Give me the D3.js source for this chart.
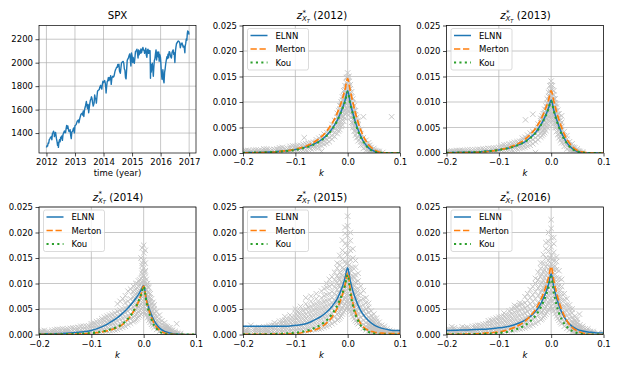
<!DOCTYPE html>
<html>
<head>
<meta charset="utf-8">
<script src="https://cdn.jsdelivr.net/npm/d3@7"></script>
<style>
  body { margin: 0; background: #fff; }
  svg { display: block; font-family: "DejaVu Sans", sans-serif; }
</style>
</head>
<body>
<svg id="chart" width="620" height="372"></svg>
<script>
// ---- data ----
const yearTicks = [2012, 2013, 2014, 2015, 2016, 2017];
const spxTicks = [1400, 1600, 1800, 2000, 2200];
const kTicks = [-0.2, -0.1, 0.0, 0.1];
const zTicks = [0, 0.005, 0.010, 0.015, 0.020, 0.025];
const years = [2012, 2013, 2014, 2015, 2016];
const modelNames = ["ELNN", "Merton", "Kou"];

// SPX close, [decimal year, level]
const spx = [
  [2012.00,1277],[2012.02,1292],[2012.04,1289],[2012.06,1315],[2012.08,1313],[2012.10,1344],[2012.12,1351],[2012.14,1361],
  [2012.17,1370],[2012.19,1343],[2012.21,1395],[2012.23,1405],[2012.25,1416],[2012.27,1398],[2012.28,1370],[2012.30,1390],
  [2012.32,1406],[2012.35,1354],[2012.37,1330],[2012.39,1295],[2012.41,1318],[2012.42,1278],[2012.44,1325],[2012.46,1343],
  [2012.48,1326],[2012.50,1365],[2012.52,1354],[2012.54,1376],[2012.56,1338],[2012.58,1385],[2012.60,1400],[2012.63,1418],
  [2012.65,1403],[2012.67,1404],[2012.69,1437],[2012.71,1465],[2012.73,1441],[2012.75,1460],[2012.77,1432],[2012.79,1413],
  [2012.81,1412],[2012.83,1428],[2012.85,1380],[2012.87,1353],[2012.89,1409],[2012.92,1416],[2012.94,1435],[2012.96,1444],
  [2012.98,1402],[2013.00,1462],[2013.04,1472],[2013.08,1501],[2013.12,1511],[2013.14,1488],[2013.17,1525],[2013.21,1560],
  [2013.25,1569],[2013.27,1553],[2013.29,1588],[2013.31,1541],[2013.33,1590],[2013.35,1614],[2013.37,1633],[2013.40,1669],
  [2013.42,1632],[2013.44,1608],[2013.46,1644],[2013.48,1573],[2013.50,1615],[2013.52,1652],[2013.54,1680],[2013.56,1692],
  [2013.58,1709],[2013.60,1690],[2013.62,1656],[2013.64,1630],[2013.67,1655],[2013.69,1725],[2013.71,1698],[2013.73,1692],
  [2013.75,1655],[2013.77,1710],[2013.79,1755],[2013.81,1763],[2013.83,1767],[2013.85,1770],[2013.87,1791],[2013.90,1807],
  [2013.92,1785],[2013.94,1775],[2013.96,1818],[2013.98,1842],[2014.00,1831],[2014.02,1838],[2014.04,1848],[2014.06,1828],
  [2014.08,1782],[2014.09,1741],[2014.11,1797],[2014.13,1839],[2014.15,1848],[2014.17,1873],[2014.19,1846],[2014.21,1872],
  [2014.23,1857],[2014.25,1890],[2014.27,1815],[2014.29,1864],[2014.31,1878],[2014.33,1884],[2014.35,1878],[2014.37,1888],
  [2014.40,1924],[2014.42,1940],[2014.44,1950],[2014.46,1962],[2014.48,1960],[2014.50,1985],[2014.52,1968],[2014.54,1988],
  [2014.56,1930],[2014.59,1910],[2014.61,1955],[2014.63,1998],[2014.65,2003],[2014.67,2007],[2014.69,2011],[2014.71,1995],
  [2014.73,1946],[2014.75,1935],[2014.77,1874],[2014.79,1862],[2014.81,1941],[2014.83,2018],[2014.85,2031],[2014.87,2039],
  [2014.90,2063],[2014.92,2075],[2014.94,2026],[2014.96,1972],[2014.98,2082],[2015.00,2058],[2015.02,2002],[2015.04,2044],
  [2015.06,2011],[2015.08,1995],[2015.10,2041],[2015.12,2096],[2015.14,2100],[2015.17,2115],[2015.19,2079],[2015.21,2040],
  [2015.23,2108],[2015.25,2068],[2015.27,2100],[2015.29,2081],[2015.31,2117],[2015.33,2085],[2015.35,2105],[2015.38,2130],
  [2015.40,2108],[2015.42,2107],[2015.44,2080],[2015.46,2096],[2015.48,2124],[2015.50,2063],[2015.52,2046],[2015.54,2108],
  [2015.56,2114],[2015.58,2080],[2015.60,2104],[2015.62,2083],[2015.63,2102],[2015.635,2035],[2015.64,1971],[2015.645,1867],
  [2015.655,1988],[2015.67,1920],[2015.69,1962],[2015.71,1995],[2015.73,1932],[2015.745,1884],[2015.76,1951],[2015.78,2017],
  [2015.80,2033],[2015.82,2075],[2015.84,2109],[2015.86,2023],[2015.88,2089],[2015.90,2090],[2015.92,2049],[2015.935,2091],
  [2015.95,2012],[2015.96,2073],[2015.98,2063],[2015.995,2044],[2016.01,1990],[2016.02,1943],[2016.04,1880],[2016.05,1859],
  [2016.07,1906],[2016.08,1940],[2016.10,1853],[2016.12,1829],[2016.14,1917],[2016.16,1948],[2016.18,1993],[2016.20,2022],
  [2016.22,2050],[2016.24,2035],[2016.26,2073],[2016.28,2042],[2016.30,2094],[2016.32,2091],[2016.34,2065],[2016.36,2047],
  [2016.38,2040],[2016.40,2086],[2016.42,2099],[2016.44,2109],[2016.46,2071],[2016.48,2083],[2016.49,2037],[2016.50,2001],
  [2016.52,2099],[2016.54,2137],[2016.56,2166],[2016.58,2169],[2016.60,2180],[2016.62,2185],[2016.64,2182],[2016.67,2171],
  [2016.69,2127],[2016.71,2147],[2016.73,2164],[2016.75,2168],[2016.77,2153],[2016.79,2133],[2016.81,2141],[2016.83,2126],
  [2016.85,2085],[2016.86,2139],[2016.88,2164],[2016.90,2202],[2016.92,2191],[2016.935,2246],[2016.95,2271],[2016.965,2258],
  [2016.98,2263],[2016.995,2239]
];

// k values at which the fitted curves were read
const kGrid = [-0.2,-0.18,-0.16,-0.14,-0.12,-0.1,-0.09,-0.08,-0.07,-0.06,-0.05,-0.04,-0.03,-0.025,-0.02,-0.015,
               -0.01,-0.005,0,0.005,0.01,0.015,0.02,0.025,0.03,0.04,0.05,0.06,0.07,0.08,0.09,0.1];

const elnn2012   = [0.00005,0.0001,0.00015,0.00025,0.0004,0.0007,0.0009,0.0012,0.0015,0.002,0.0026,0.0035,0.0047,0.0055,0.0064,0.0075,0.0088,0.0103,0.0122,0.0098,0.0078,0.006,0.0045,0.0033,0.0023,0.001,0.0004,0.0001,0,0,0,0];
const merton2012 = [0.00002,0.00005,0.0001,0.0002,0.0004,0.0007,0.001,0.0013,0.0018,0.0024,0.0032,0.0043,0.0058,0.0067,0.0078,0.0091,0.0106,0.0125,0.0146,0.0122,0.0099,0.0078,0.006,0.0045,0.0033,0.0016,0.0007,0.0002,0.00005,0,0,0];
const kou2012    = [0.00004,0.00008,0.00012,0.0002,0.00035,0.0006,0.0008,0.0011,0.0014,0.0019,0.0025,0.0034,0.0046,0.0054,0.0063,0.0074,0.0087,0.0101,0.012,0.0096,0.0076,0.0058,0.0043,0.0031,0.0022,0.0009,0.0003,0.0001,0,0,0,0];

const elnn2013   = [0.00005,0.0001,0.00015,0.0002,0.0004,0.0006,0.0008,0.001,0.0013,0.0017,0.0022,0.003,0.004,0.0047,0.0055,0.0064,0.0075,0.0088,0.0104,0.0084,0.0067,0.0052,0.0039,0.0029,0.002,0.0009,0.0003,0.0001,0,0,0,0];
const merton2013 = [0.00002,0.00005,0.0001,0.00015,0.0003,0.0006,0.0008,0.0011,0.0015,0.002,0.0027,0.0036,0.0048,0.0056,0.0065,0.0076,0.0089,0.0104,0.0122,0.0102,0.0082,0.0065,0.005,0.0037,0.0027,0.0013,0.0005,0.0002,0.00005,0,0,0];
const kou2013    = [0.00004,0.00008,0.00012,0.0002,0.00035,0.0006,0.0008,0.001,0.0013,0.0017,0.0022,0.0029,0.0039,0.0046,0.0054,0.0063,0.0074,0.0087,0.0102,0.0082,0.0065,0.005,0.0037,0.0027,0.0019,0.0008,0.0003,0.0001,0,0,0,0];

const elnn2014   = [0.0001,0.00015,0.0002,0.0003,0.0005,0.0008,0.0011,0.0015,0.002,0.0026,0.0033,0.0042,0.0052,0.0058,0.0064,0.0071,0.0078,0.0087,0.0096,0.007,0.0052,0.0038,0.0027,0.0019,0.0013,0.0006,0.0003,0.0001,0.00005,0,0,0];
const merton2014 = [0,0.00002,0.00004,0.00006,0.00012,0.00025,0.00035,0.0005,0.0007,0.001,0.0014,0.002,0.003,0.0036,0.0044,0.0053,0.0064,0.0078,0.0095,0.0068,0.0048,0.0033,0.0022,0.0014,0.0009,0.0003,0.0001,0,0,0,0,0];
const kou2014    = [0.00002,0.00004,0.00006,0.0001,0.00016,0.0003,0.0004,0.0006,0.0008,0.0011,0.0015,0.0021,0.0031,0.0037,0.0045,0.0054,0.0065,0.0078,0.0094,0.0065,0.0044,0.0029,0.0018,0.0011,0.0006,0.0001,0,0,0,0,0,0];

const elnn2015   = [0.0016,0.0016,0.0016,0.0016,0.0016,0.0018,0.0019,0.0021,0.0025,0.003,0.0036,0.0044,0.0055,0.0062,0.007,0.0081,0.0094,0.0111,0.0131,0.0105,0.0085,0.007,0.0057,0.0047,0.0039,0.0027,0.0019,0.0014,0.0011,0.0009,0.0008,0.0008];
const merton2015 = [0.00005,0.00005,0.00005,0.00008,0.0001,0.0002,0.0003,0.0005,0.0007,0.001,0.0015,0.0023,0.0034,0.0042,0.0051,0.0063,0.0078,0.0097,0.0121,0.0088,0.0062,0.0043,0.003,0.0021,0.0015,0.0008,0.0005,0.0003,0.00025,0.0002,0.0002,0.0002];
const kou2015    = [0.00005,0.00005,0.00005,0.0001,0.0002,0.00035,0.0005,0.0007,0.001,0.0014,0.002,0.0028,0.004,0.0048,0.0057,0.0068,0.0081,0.0097,0.0117,0.0082,0.0057,0.0039,0.0027,0.0018,0.0012,0.0005,0.0002,0,0,0,0,0];

const elnn2016   = [0.0008,0.00085,0.0009,0.001,0.0011,0.0013,0.0014,0.0016,0.0019,0.0023,0.0028,0.0035,0.0045,0.0052,0.006,0.0071,0.0083,0.0099,0.0119,0.0094,0.0073,0.0057,0.0044,0.0034,0.0026,0.0016,0.001,0.0007,0.0005,0.0004,0.0003,0.0003];
const merton2016 = [0.00003,0.00005,0.0001,0.00015,0.0003,0.0005,0.0007,0.001,0.0014,0.0019,0.0026,0.0036,0.0049,0.0058,0.0068,0.008,0.0094,0.0112,0.0133,0.0106,0.0083,0.0064,0.0049,0.0037,0.0027,0.0014,0.0007,0.0003,0.0001,0,0,0];
const kou2016    = [0.00005,0.00005,0.00005,0.0001,0.00015,0.0003,0.0004,0.0006,0.0009,0.0013,0.0018,0.0026,0.0037,0.0044,0.0053,0.0064,0.0077,0.0093,0.0113,0.0082,0.0059,0.0042,0.003,0.0021,0.0015,0.0007,0.0003,0.0001,0,0,0,0];

// observed points: [k, [z, z, ...]]
const cloud2012 = [
  [-0.200,[0.0001,0.0004]],[-0.190,[0.0002,0.0005]],[-0.180,[0.0001,0.0006]],[-0.170,[0.0002,0.0005]],
  [-0.160,[0.0001,0.0004,0.0008]],[-0.150,[0.0002,0.0006]],[-0.140,[0.0003,0.0007]],[-0.130,[0.0002,0.0006,0.0010]],
  [-0.120,[0.0003,0.0008]],[-0.110,[0.0004,0.0009,0.0013]],[-0.100,[0.0003,0.0008,0.0013]],[-0.090,[0.0005,0.0010,0.0015]],
  [-0.083,[0.0030]],[-0.080,[0.0006,0.0012,0.0018]],[-0.070,[0.0008,0.0014,0.0020]],[-0.060,[0.0010,0.0016,0.0022,0.0026]],
  [-0.050,[0.0003,0.0014,0.0020,0.0026,0.0032]],[-0.045,[0.0017,0.0024,0.0031,0.0037]],[-0.040,[0.0019,0.0026,0.0033,0.0040]],
  [-0.035,[0.0022,0.0030,0.0038,0.0046]],[-0.030,[0.0027,0.0034,0.0042,0.0050,0.0056]],[-0.025,[0.0032,0.0040,0.0048,0.0056,0.0064]],
  [-0.020,[0.0038,0.0046,0.0054,0.0062,0.0070,0.0078]],[-0.015,[0.0046,0.0054,0.0062,0.0070,0.0078,0.0086,0.0093]],
  [-0.010,[0.0055,0.0064,0.0072,0.0080,0.0088,0.0096,0.0104,0.0110]],
  [-0.005,[0.0068,0.0076,0.0084,0.0092,0.0100,0.0108,0.0116,0.0124,0.0132]],
  [0.000,[0.0085,0.0093,0.0101,0.0109,0.0117,0.0125,0.0133,0.0141,0.0149,0.0157]],
  [0.005,[0.0070,0.0078,0.0086,0.0094,0.0102,0.0110,0.0118,0.0126,0.0134]],
  [0.010,[0.0050,0.0058,0.0066,0.0074,0.0082,0.0090,0.0098,0.0106]],[0.015,[0.0035,0.0043,0.0051,0.0059,0.0067,0.0075,0.0083]],
  [0.020,[0.0024,0.0032,0.0040,0.0048,0.0056,0.0064]],[0.025,[0.0015,0.0022,0.0030,0.0038,0.0046]],
  [0.030,[0.0009,0.0016,0.0023,0.0030,0.0071]],[0.035,[0.0005,0.0011,0.0018,0.0025]],[0.040,[0.0003,0.0008,0.0014,0.0020]],
  [0.045,[0.0002,0.0006,0.0011]],[0.050,[0.0001,0.0005,0.0009]],[0.055,[0.0001,0.0004]],[0.060,[0.0000,0.0003]],
  [0.067,[0.0001]],[0.084,[0.0071]]
];
const fill2012 = [
  [-0.195,[0.0002,0.0005]],[-0.185,[0.0001,0.0004]],[-0.175,[0.0002,0.0006]],[-0.165,[0.0001,0.0005]],
  [-0.155,[0.0002,0.0005,0.0008]],[-0.145,[0.0002,0.0006]],[-0.135,[0.0003,0.0008]],[-0.125,[0.0003,0.0007,0.0011]],
  [-0.115,[0.0004,0.0009]],[-0.105,[0.0004,0.0009,0.0014]],[-0.095,[0.0005,0.0010,0.0015]],[-0.085,[0.0006,0.0011,0.0017]],
  [-0.075,[0.0007,0.0013,0.0019]],[-0.065,[0.0009,0.0015,0.0021]],[-0.055,[0.0011,0.0017,0.0023,0.0029]],
  [-0.0175,[0.0043,0.0053,0.0063,0.0073,0.0083]],[-0.0125,[0.0052,0.0062,0.0072,0.0082,0.0092,0.0100]],
  [-0.0075,[0.0062,0.0072,0.0082,0.0092,0.0102,0.0112,0.0122]],[-0.0025,[0.0078,0.0088,0.0098,0.0108,0.0118,0.0128,0.0138,0.0148]],
  [0.0025,[0.0080,0.0090,0.0100,0.0110,0.0120,0.0130,0.0140,0.0150]],[0.0075,[0.0060,0.0070,0.0080,0.0090,0.0100,0.0110,0.0120]],
  [0.0125,[0.0043,0.0053,0.0063,0.0073,0.0083,0.0093]],[0.0175,[0.0030,0.0040,0.0050,0.0060,0.0070]],
  [0.0425,[0.0003,0.0009,0.0015]],[0.0475,[0.0002,0.0007]],[0.0525,[0.0001,0.0005]],[0.0575,[0.0001,0.0003]]
];
const cloud2013 = [
  [-0.200,[0.0001,0.0003]],[-0.190,[0.0001,0.0004]],[-0.180,[0.0002,0.0005]],[-0.176,[0.0003]],[-0.170,[0.0001,0.0005]],
  [-0.160,[0.0002,0.0006]],[-0.150,[0.0002,0.0006]],[-0.140,[0.0003,0.0007]],[-0.130,[0.0003,0.0008]],[-0.120,[0.0004,0.0009]],
  [-0.110,[0.0004,0.0010]],[-0.100,[0.0005,0.0011]],[-0.090,[0.0005,0.0011,0.0016]],[-0.080,[0.0006,0.0012,0.0018]],
  [-0.070,[0.0007,0.0014,0.0021]],[-0.060,[0.0009,0.0016,0.0023]],[-0.050,[0.0011,0.0018,0.0025,0.0031]],[-0.049,[0.0065]],
  [-0.045,[0.0013,0.0020,0.0028,0.0035]],[-0.040,[0.0015,0.0023,0.0031,0.0039]],[-0.035,[0.0018,0.0026,0.0034,0.0042,0.0076]],
  [-0.030,[0.0001,0.0022,0.0030,0.0038,0.0046]],[-0.025,[0.0026,0.0034,0.0042,0.0050,0.0057]],
  [-0.020,[0.0031,0.0039,0.0047,0.0055,0.0063,0.0068]],[-0.015,[0.0037,0.0045,0.0053,0.0061,0.0069,0.0077]],
  [-0.010,[0.0044,0.0052,0.0060,0.0068,0.0076,0.0084,0.0092]],
  [-0.005,[0.0055,0.0063,0.0071,0.0079,0.0087,0.0095,0.0103,0.0111,0.0119]],
  [0.000,[0.0070,0.0078,0.0086,0.0094,0.0102,0.0110,0.0118,0.0126,0.0134,0.0141]],
  [0.005,[0.0058,0.0066,0.0074,0.0082,0.0090,0.0098,0.0106,0.0114,0.0122]],
  [0.010,[0.0042,0.0050,0.0058,0.0066,0.0074,0.0082,0.0090,0.0096]],[0.015,[0.0030,0.0038,0.0046,0.0054,0.0062,0.0070,0.0077]],
  [0.020,[0.0020,0.0028,0.0036,0.0044,0.0052,0.0060,0.0073]],[0.025,[0.0013,0.0020,0.0027,0.0034,0.0042]],
  [0.030,[0.0008,0.0014,0.0020,0.0027,0.0034]],[0.035,[0.0004,0.0010,0.0016,0.0022]],[0.040,[0.0002,0.0007,0.0012,0.0018]],
  [0.045,[0.0001,0.0005,0.0010]],[0.050,[0.0001,0.0004,0.0008]],[0.055,[0.0000,0.0003]],[0.060,[0.0000,0.0002]]
];
const fill2013 = [
  [-0.195,[0.0001,0.0003]],[-0.185,[0.0002,0.0004]],[-0.175,[0.0001,0.0005]],[-0.165,[0.0002,0.0005]],
  [-0.155,[0.0002,0.0006]],[-0.145,[0.0002,0.0006]],[-0.135,[0.0003,0.0007]],[-0.125,[0.0003,0.0008]],
  [-0.115,[0.0004,0.0009]],[-0.105,[0.0004,0.0010]],[-0.095,[0.0005,0.0010,0.0014]],[-0.085,[0.0005,0.0011,0.0016]],
  [-0.075,[0.0006,0.0013,0.0019]],[-0.065,[0.0008,0.0015,0.0022]],[-0.055,[0.0010,0.0017,0.0024,0.0029]],
  [-0.0175,[0.0034,0.0042,0.0050,0.0058,0.0066,0.0073]],[-0.0125,[0.0040,0.0048,0.0056,0.0064,0.0072,0.0080,0.0086]],
  [-0.0075,[0.0050,0.0058,0.0066,0.0074,0.0082,0.0090,0.0098,0.0106]],[-0.0025,[0.0062,0.0072,0.0082,0.0092,0.0102,0.0112,0.0122,0.0132]],
  [0.0025,[0.0064,0.0074,0.0084,0.0094,0.0104,0.0114,0.0124,0.0132]],[0.0075,[0.0050,0.0058,0.0066,0.0074,0.0082,0.0090,0.0098,0.0106]],
  [0.0125,[0.0036,0.0044,0.0052,0.0060,0.0068,0.0076,0.0084]],[0.0175,[0.0025,0.0033,0.0041,0.0049,0.0057,0.0064]],
  [0.0425,[0.0002,0.0006,0.0011]],[0.0475,[0.0001,0.0005]],[0.0525,[0.0001,0.0004]]
];
const cloud2014 = [
  [-0.200,[0.0001,0.0004]],[-0.190,[0.0001,0.0004,0.0008]],[-0.180,[0.0002,0.0005]],[-0.170,[0.0001,0.0005,0.0009]],
  [-0.160,[0.0002,0.0006,0.0010]],[-0.150,[0.0002,0.0006,0.0010]],[-0.140,[0.0003,0.0007,0.0012]],[-0.130,[0.0003,0.0008,0.0013]],
  [-0.120,[0.0004,0.0009,0.0016]],[-0.110,[0.0004,0.0010,0.0016]],[-0.100,[0.0005,0.0011,0.0017,0.0021]],
  [-0.090,[0.0005,0.0012,0.0019,0.0025]],[-0.080,[0.0006,0.0013,0.0020,0.0027,0.0031]],[-0.070,[0.0007,0.0015,0.0023,0.0030,0.0036]],
  [-0.060,[0.0008,0.0016,0.0024,0.0032,0.0040]],[-0.050,[0.0010,0.0018,0.0027,0.0036,0.0045,0.0060]],
  [-0.045,[0.0012,0.0021,0.0030,0.0039,0.0048,0.0065]],[-0.040,[0.0014,0.0023,0.0032,0.0041,0.0050,0.0070]],
  [-0.035,[0.0016,0.0025,0.0034,0.0043,0.0052,0.0062,0.0076]],[-0.030,[0.0019,0.0028,0.0037,0.0046,0.0055,0.0065,0.0085]],
  [-0.025,[0.0022,0.0031,0.0040,0.0050,0.0060,0.0070,0.0089]],[-0.020,[0.0025,0.0034,0.0044,0.0054,0.0064,0.0074,0.0084,0.0095]],
  [-0.015,[0.0029,0.0039,0.0049,0.0059,0.0069,0.0079,0.0089,0.0100]],[-0.010,[0.0034,0.0044,0.0054,0.0064,0.0074,0.0084,0.0094,0.0105]],
  [-0.005,[0.0040,0.0050,0.0060,0.0070,0.0080,0.0090,0.0100,0.0110,0.0150]],[-0.003,[0.0120,0.0135,0.0170]],
  [0.000,[0.0045,0.0055,0.0065,0.0075,0.0085,0.0095,0.0105,0.0115,0.0130,0.0145,0.0160,0.0175]],[0.003,[0.0125,0.0140,0.0165]],
  [0.005,[0.0038,0.0048,0.0058,0.0068,0.0078,0.0088,0.0098,0.0108]],[0.010,[0.0028,0.0037,0.0046,0.0055,0.0064,0.0073,0.0082,0.0092]],
  [0.015,[0.0020,0.0028,0.0036,0.0044,0.0052,0.0060,0.0070]],[0.020,[0.0014,0.0021,0.0028,0.0035,0.0042,0.0050,0.0058]],
  [0.025,[0.0010,0.0016,0.0022,0.0028,0.0035,0.0045]],[0.030,[0.0006,0.0012,0.0018,0.0024,0.0030,0.0038]],
  [0.035,[0.0004,0.0009,0.0014,0.0020,0.0027]],[0.040,[0.0002,0.0007,0.0012,0.0017,0.0023]],[0.045,[0.0002,0.0006,0.0010,0.0015]],
  [0.050,[0.0001,0.0005,0.0009,0.0013]],[0.055,[0.0001,0.0004,0.0008]],[0.060,[0.0001,0.0003,0.0006]],[0.063,[0.0021]],
  [0.065,[0.0001,0.0003]],[0.070,[0.0000,0.0002]]
];
const fill2014 = [
  [-0.195,[0.0001,0.0004,0.0007]],[-0.185,[0.0002,0.0005]],[-0.175,[0.0001,0.0005,0.0008]],[-0.165,[0.0002,0.0006,0.0010]],
  [-0.155,[0.0002,0.0006,0.0011]],[-0.145,[0.0003,0.0007,0.0011]],[-0.135,[0.0003,0.0008,0.0013]],[-0.125,[0.0004,0.0009,0.0014]],
  [-0.115,[0.0004,0.0010,0.0016]],[-0.105,[0.0005,0.0011,0.0017]],[-0.095,[0.0005,0.0012,0.0018,0.0023]],
  [-0.085,[0.0006,0.0013,0.0020,0.0027]],[-0.075,[0.0007,0.0014,0.0021,0.0028,0.0034]],[-0.065,[0.0008,0.0016,0.0024,0.0031,0.0038]],
  [-0.055,[0.0009,0.0017,0.0025,0.0034,0.0042]],
  [-0.0175,[0.0027,0.0037,0.0047,0.0057,0.0067,0.0077,0.0087]],[-0.0125,[0.0031,0.0041,0.0051,0.0061,0.0071,0.0081,0.0091,0.0100]],
  [-0.0075,[0.0037,0.0047,0.0057,0.0067,0.0077,0.0087,0.0097,0.0107]],
  [-0.0025,[0.0043,0.0053,0.0063,0.0073,0.0083,0.0093,0.0103,0.0113,0.0125,0.0140]],
  [0.0025,[0.0042,0.0052,0.0062,0.0072,0.0082,0.0092,0.0102,0.0112,0.0122]],
  [0.0075,[0.0033,0.0043,0.0053,0.0063,0.0073,0.0083,0.0093,0.0100]],[0.0125,[0.0024,0.0032,0.0040,0.0048,0.0056,0.0064,0.0072,0.0080]],
  [0.0175,[0.0017,0.0024,0.0031,0.0039,0.0047,0.0055,0.0063]],
  [0.0425,[0.0002,0.0006,0.0011,0.0016]],[0.0475,[0.0001,0.0005,0.0009,0.0013]],[0.0525,[0.0001,0.0004,0.0008]],[0.0575,[0.0001,0.0004]]
];
const cloud2015 = [
  [-0.200,[0.0002,0.0006,0.0010]],[-0.190,[0.0001,0.0005,0.0009,0.0013]],[-0.185,[0.0018]],[-0.180,[0.0002,0.0006,0.0010]],
  [-0.170,[0.0002,0.0006,0.0010,0.0014]],[-0.160,[0.0002,0.0006,0.0010,0.0015]],[-0.150,[0.0003,0.0007,0.0012,0.0017]],
  [-0.140,[0.0003,0.0008,0.0013,0.0018,0.0023]],[-0.130,[0.0004,0.0009,0.0014,0.0020,0.0026]],
  [-0.120,[0.0004,0.0010,0.0016,0.0022,0.0028,0.0035]],[-0.110,[0.0005,0.0011,0.0017,0.0024,0.0031,0.0038]],
  [-0.100,[0.0006,0.0013,0.0020,0.0027,0.0034,0.0042,0.0050]],[-0.090,[0.0007,0.0014,0.0021,0.0029,0.0037,0.0045,0.0055]],
  [-0.080,[0.0008,0.0016,0.0024,0.0032,0.0040,0.0050,0.0060,0.0072]],[-0.070,[0.0009,0.0018,0.0027,0.0036,0.0045,0.0055,0.0065,0.0075]],
  [-0.060,[0.0010,0.0020,0.0030,0.0040,0.0050,0.0060,0.0070,0.0080]],[-0.050,[0.0012,0.0022,0.0032,0.0042,0.0052,0.0062,0.0072,0.0085]],
  [-0.045,[0.0014,0.0024,0.0034,0.0044,0.0054,0.0064,0.0076,0.0090]],
  [-0.040,[0.0016,0.0026,0.0036,0.0046,0.0056,0.0066,0.0078,0.0092,0.0100]],
  [-0.035,[0.0018,0.0028,0.0038,0.0048,0.0058,0.0068,0.0080,0.0094,0.0108]],
  [-0.030,[0.0021,0.0031,0.0041,0.0051,0.0061,0.0072,0.0084,0.0098,0.0113]],
  [-0.025,[0.0024,0.0035,0.0046,0.0057,0.0068,0.0080,0.0093,0.0107,0.0122]],
  [-0.020,[0.0028,0.0040,0.0052,0.0064,0.0076,0.0088,0.0101,0.0115,0.0130,0.0140]],
  [-0.015,[0.0033,0.0045,0.0057,0.0069,0.0081,0.0094,0.0108,0.0122,0.0137,0.0155]],
  [-0.010,[0.0040,0.0052,0.0064,0.0076,0.0089,0.0102,0.0116,0.0131,0.0147,0.0165,0.0185]],
  [-0.005,[0.0048,0.0060,0.0072,0.0085,0.0098,0.0112,0.0127,0.0143,0.0160,0.0178,0.0198,0.0210]],
  [0.000,[0.0055,0.0068,0.0081,0.0095,0.0109,0.0124,0.0140,0.0157,0.0175,0.0194,0.0213,0.0232]],
  [0.005,[0.0045,0.0058,0.0071,0.0085,0.0099,0.0114,0.0130,0.0147,0.0165,0.0184,0.0200]],
  [0.010,[0.0035,0.0047,0.0059,0.0072,0.0086,0.0100,0.0115,0.0131,0.0150,0.0168]],
  [0.015,[0.0027,0.0038,0.0049,0.0061,0.0074,0.0088,0.0102,0.0117,0.0132,0.0145]],
  [0.020,[0.0021,0.0031,0.0041,0.0052,0.0064,0.0077,0.0090,0.0105,0.0120]],
  [0.025,[0.0016,0.0025,0.0034,0.0044,0.0055,0.0067,0.0080,0.0095]],
  [0.030,[0.0012,0.0020,0.0028,0.0037,0.0047,0.0058,0.0070,0.0086]],
  [0.035,[0.0009,0.0016,0.0023,0.0031,0.0040,0.0050,0.0062,0.0072]],
  [0.040,[0.0007,0.0013,0.0019,0.0026,0.0034,0.0043,0.0053,0.0061]],
  [0.045,[0.0005,0.0010,0.0016,0.0022,0.0029,0.0037,0.0046]],[0.050,[0.0004,0.0008,0.0013,0.0018,0.0024,0.0031,0.0040]],
  [0.055,[0.0003,0.0007,0.0011,0.0015,0.0020,0.0026,0.0032]],[0.060,[0.0002,0.0006,0.0010,0.0014,0.0018,0.0024]],
  [0.065,[0.0002,0.0005,0.0009,0.0013,0.0018]],[0.070,[0.0002,0.0005,0.0008,0.0012,0.0016]],[0.075,[0.0001,0.0004,0.0007,0.0011]],
  [0.080,[0.0001,0.0004,0.0008]],[0.085,[0.0001,0.0003,0.0006]],[0.090,[0.0001,0.0003,0.0005]],[0.095,[0.0001,0.0003]],
  [0.100,[0.0001,0.0003]]
];
const fill2015 = [
  [-0.195,[0.0001,0.0005,0.0009]],[-0.175,[0.0002,0.0006,0.0010,0.0013]],[-0.165,[0.0002,0.0006,0.0010]],
  [-0.155,[0.0003,0.0007,0.0011,0.0015]],[-0.145,[0.0003,0.0008,0.0013,0.0018]],[-0.135,[0.0003,0.0008,0.0014,0.0020]],
  [-0.125,[0.0004,0.0009,0.0015,0.0021,0.0027]],[-0.115,[0.0005,0.0011,0.0017,0.0023,0.0030]],[-0.105,[0.0005,0.0012,0.0019,0.0026,0.0033]],
  [-0.095,[0.0006,0.0013,0.0020,0.0028,0.0036,0.0044]],[-0.085,[0.0007,0.0015,0.0023,0.0031,0.0039,0.0047]],
  [-0.075,[0.0008,0.0017,0.0026,0.0035,0.0044,0.0053]],[-0.065,[0.0010,0.0019,0.0028,0.0038,0.0048,0.0058]],
  [-0.055,[0.0011,0.0021,0.0031,0.0041,0.0051,0.0061]],
  [-0.0175,[0.0030,0.0043,0.0056,0.0069,0.0082,0.0096,0.0110]],[-0.0125,[0.0036,0.0049,0.0062,0.0075,0.0089,0.0103,0.0118]],
  [-0.0075,[0.0044,0.0057,0.0070,0.0084,0.0098,0.0113,0.0128]],[-0.0025,[0.0051,0.0064,0.0078,0.0092,0.0107,0.0122,0.0138]],
  [0.0025,[0.0050,0.0063,0.0077,0.0091,0.0106,0.0121,0.0136]],[0.0075,[0.0040,0.0053,0.0066,0.0080,0.0094,0.0109,0.0124]],
  [0.0125,[0.0031,0.0043,0.0055,0.0068,0.0081,0.0095,0.0110]],[0.0175,[0.0024,0.0035,0.0046,0.0058,0.0070,0.0083]],
  [0.0425,[0.0006,0.0012,0.0018,0.0024,0.0031]],[0.0475,[0.0005,0.0009,0.0014,0.0020,0.0026]],[0.0525,[0.0003,0.0007,0.0012,0.0017]],
  [0.0575,[0.0003,0.0006,0.0010,0.0014]],[0.0625,[0.0002,0.0005,0.0009]],[0.0675,[0.0002,0.0005,0.0008]]
];
const cloud2016 = [
  [-0.200,[0.0001,0.0005,0.0009]],[-0.190,[0.0002,0.0006,0.0010,0.0015]],[-0.180,[0.0001,0.0005,0.0009]],
  [-0.170,[0.0002,0.0006,0.0010,0.0015]],[-0.160,[0.0002,0.0006,0.0010,0.0014]],[-0.150,[0.0003,0.0007,0.0011,0.0016]],
  [-0.140,[0.0003,0.0008,0.0013,0.0018]],[-0.130,[0.0004,0.0009,0.0014,0.0020]],[-0.120,[0.0004,0.0010,0.0016,0.0022,0.0027]],
  [-0.110,[0.0005,0.0011,0.0017,0.0024,0.0030]],[-0.100,[0.0006,0.0012,0.0019,0.0026,0.0034]],
  [-0.090,[0.0007,0.0014,0.0021,0.0028,0.0036,0.0042]],[-0.080,[0.0008,0.0015,0.0023,0.0031,0.0039,0.0046]],
  [-0.070,[0.0009,0.0017,0.0025,0.0034,0.0043,0.0052,0.0057]],[-0.060,[0.0011,0.0019,0.0028,0.0037,0.0047,0.0057,0.0062]],
  [-0.050,[0.0013,0.0022,0.0032,0.0042,0.0052,0.0062,0.0074]],[-0.045,[0.0015,0.0025,0.0035,0.0045,0.0056,0.0067,0.0080]],
  [-0.040,[0.0017,0.0027,0.0038,0.0049,0.0060,0.0072,0.0088]],[-0.035,[0.0019,0.0030,0.0041,0.0053,0.0065,0.0078,0.0094]],
  [-0.030,[0.0022,0.0033,0.0045,0.0057,0.0070,0.0084,0.0100,0.0110]],
  [-0.025,[0.0025,0.0037,0.0049,0.0062,0.0076,0.0091,0.0107,0.0122]],
  [-0.020,[0.0029,0.0042,0.0055,0.0069,0.0083,0.0098,0.0114,0.0130,0.0140]],
  [-0.015,[0.0034,0.0047,0.0061,0.0075,0.0090,0.0106,0.0123,0.0140,0.0157]],
  [-0.010,[0.0040,0.0054,0.0068,0.0083,0.0099,0.0116,0.0133,0.0150,0.0168,0.0180]],
  [-0.005,[0.0048,0.0062,0.0077,0.0093,0.0110,0.0127,0.0145,0.0163,0.0182,0.0200]],
  [0.000,[0.0056,0.0071,0.0087,0.0104,0.0121,0.0138,0.0155,0.0172,0.0190,0.0208,0.0225]],
  [0.005,[0.0046,0.0061,0.0077,0.0093,0.0110,0.0127,0.0144,0.0161,0.0178,0.0190]],
  [0.010,[0.0036,0.0050,0.0064,0.0079,0.0095,0.0111,0.0127,0.0143,0.0152]],
  [0.015,[0.0028,0.0040,0.0053,0.0066,0.0080,0.0095,0.0110,0.0125]],
  [0.020,[0.0021,0.0032,0.0043,0.0055,0.0067,0.0080,0.0094,0.0108]],
  [0.025,[0.0016,0.0025,0.0035,0.0045,0.0056,0.0068,0.0080]],[0.030,[0.0012,0.0020,0.0028,0.0037,0.0047,0.0058,0.0070]],
  [0.035,[0.0009,0.0016,0.0023,0.0031,0.0040,0.0050,0.0058]],[0.040,[0.0006,0.0012,0.0018,0.0025,0.0033,0.0042,0.0050]],
  [0.045,[0.0005,0.0010,0.0015,0.0021,0.0028,0.0036]],[0.050,[0.0004,0.0008,0.0012,0.0017,0.0023,0.0030]],[0.054,[0.0040]],
  [0.055,[0.0003,0.0006,0.0010,0.0014,0.0019]],[0.060,[0.0002,0.0005,0.0008,0.0012,0.0016]],[0.065,[0.0002,0.0004,0.0007,0.0011]],
  [0.070,[0.0001,0.0004,0.0007,0.0011]],[0.075,[0.0001,0.0003,0.0006]],[0.080,[0.0001,0.0003,0.0006]],[0.090,[0.0001,0.0003]],
  [0.100,[0.0001,0.0003]]
];
const fill2016 = [
  [-0.195,[0.0002,0.0006,0.0010]],[-0.185,[0.0001,0.0005,0.0009,0.0013]],[-0.175,[0.0002,0.0006,0.0010]],
  [-0.165,[0.0002,0.0006,0.0010,0.0013]],[-0.155,[0.0003,0.0007,0.0011]],[-0.145,[0.0003,0.0007,0.0012,0.0017]],
  [-0.135,[0.0003,0.0008,0.0013,0.0018]],[-0.125,[0.0004,0.0009,0.0015,0.0021]],[-0.115,[0.0005,0.0010,0.0016,0.0022,0.0028]],
  [-0.105,[0.0005,0.0011,0.0018,0.0025,0.0032]],[-0.095,[0.0006,0.0013,0.0020,0.0027,0.0035]],[-0.085,[0.0007,0.0014,0.0022,0.0030,0.0038]],
  [-0.075,[0.0008,0.0016,0.0024,0.0032,0.0041,0.0049]],[-0.065,[0.0010,0.0018,0.0026,0.0035,0.0045,0.0054]],
  [-0.055,[0.0012,0.0020,0.0030,0.0040,0.0050,0.0060]],
  [-0.0175,[0.0031,0.0044,0.0058,0.0072,0.0087,0.0102,0.0118]],[-0.0125,[0.0037,0.0051,0.0065,0.0080,0.0095,0.0111,0.0127]],
  [-0.0075,[0.0044,0.0058,0.0073,0.0088,0.0104,0.0120,0.0137]],[-0.0025,[0.0052,0.0067,0.0082,0.0098,0.0115,0.0132,0.0150]],
  [0.0025,[0.0051,0.0066,0.0082,0.0098,0.0115,0.0132,0.0148]],[0.0075,[0.0041,0.0055,0.0070,0.0086,0.0102,0.0118,0.0134]],
  [0.0125,[0.0032,0.0045,0.0058,0.0072,0.0087,0.0102]],[0.0175,[0.0024,0.0036,0.0048,0.0060,0.0073,0.0087]],
  [0.0425,[0.0005,0.0011,0.0017,0.0023,0.0030]],[0.0475,[0.0004,0.0009,0.0013,0.0019,0.0025]],[0.0525,[0.0003,0.0007,0.0011,0.0015]],
  [0.0575,[0.0002,0.0005,0.0009,0.0013]],[0.0675,[0.0002,0.0004,0.0008]]
];

// ---- layout ----
const colLeft = [39, 243, 446.5];
const rowTop  = [25.5, 207];
const axW = 157, axH = 127.5;
const FONT = '"DejaVu Sans", sans-serif';
const FS = 8.5;          // tick / label size
const TITLE_FS = 10.2;
const GRID = "#b0b0b0";

const colors = { ELNN: "#1f77b4", Merton: "#ff7f0e", Kou: "#2ca02c" };
const widths = { ELNN: 1.5, Merton: 1.7, Kou: 2.1 };
const dashes = { ELNN: null, Merton: "6.3,2.7", Kou: "2.1,3.3" };

const svg = d3.select("#chart");
const defs = svg.append("defs");

function makeAxes(col, row, id, x, y, xTicks, yTicks, xFmt, yFmt) {
  const g = svg.append("g").attr("transform", `translate(${colLeft[col]},${rowTop[row]})`);

  defs.append("clipPath").attr("id", id)
    .append("rect").attr("width", axW).attr("height", axH);

  // grid
  const grid = g.append("g").attr("stroke", GRID).attr("stroke-width", 0.7);
  grid.selectAll("line.vx").data(xTicks).join("line")
    .attr("x1", d => x(d)).attr("x2", d => x(d)).attr("y1", 0).attr("y2", axH);
  grid.selectAll("line.hy").data(yTicks).join("line")
    .attr("y1", d => y(d)).attr("y2", d => y(d)).attr("x1", 0).attr("x2", axW);

  const plot = g.append("g").attr("clip-path", `url(#${id})`);

  const xa = g.append("g").attr("transform", `translate(0,${axH})`)
    .call(d3.axisBottom(x).tickValues(xTicks).tickFormat(xFmt).tickSize(3.5).tickPadding(2.5));
  const ya = g.append("g")
    .call(d3.axisLeft(y).tickValues(yTicks).tickFormat(yFmt).tickSize(3.5).tickPadding(2.5));
  [xa, ya].forEach(a => {
    a.select(".domain").remove();
    a.attr("font-family", FONT).attr("font-size", FS);
    a.selectAll("line").attr("stroke", "#000").attr("stroke-width", 0.7);
    a.selectAll("text").attr("fill", "#000");
  });

  return { g, plot };
}

function spines(g) {
  g.append("rect").attr("width", axW).attr("height", axH)
    .attr("fill", "none").attr("stroke", "#000").attr("stroke-width", 0.7);
}

// ---- SPX panel ----
{
  const x = d3.scaleLinear().domain([2011.74, 2017.24]).range([0, axW]);
  const y = d3.scaleLinear().domain([1230, 2317]).range([axH, 0]);
  const { g, plot } = makeAxes(0, 0, "clip-spx", x, y, yearTicks, spxTicks, d3.format("d"), d3.format("d"));

  plot.append("path").datum(spx)
    .attr("fill", "none").attr("stroke", "#1f77b4").attr("stroke-width", 1.4)
    .attr("stroke-linejoin", "round")
    .attr("d", d3.line().x(d => x(d[0])).y(d => y(d[1])));

  spines(g);

  g.append("text").attr("x", axW / 2).attr("y", -6.5).attr("text-anchor", "middle")
    .attr("font-family", FONT).attr("font-size", TITLE_FS).text("SPX");
  g.append("text").attr("x", axW / 2).attr("y", axH + 23.3).attr("text-anchor", "middle")
    .attr("font-family", FONT).attr("font-size", FS).text("time (year)");
}

// ---- density panels ----
const panels = [
  { year: years[0], col: 1, row: 0, fits: [elnn2012, merton2012, kou2012], cloud: cloud2012.concat(fill2012) },
  { year: years[1], col: 2, row: 0, fits: [elnn2013, merton2013, kou2013], cloud: cloud2013.concat(fill2013) },
  { year: years[2], col: 0, row: 1, fits: [elnn2014, merton2014, kou2014], cloud: cloud2014.concat(fill2014) },
  { year: years[3], col: 1, row: 1, fits: [elnn2015, merton2015, kou2015], cloud: cloud2015.concat(fill2015) },
  { year: years[4], col: 2, row: 1, fits: [elnn2016, merton2016, kou2016], cloud: cloud2016.concat(fill2016) }
];

const x = d3.scaleLinear().domain([-0.2, 0.1]).range([0, axW]);
const y = d3.scaleLinear().domain([0, 0.025]).range([axH, 0]);
const line = d3.line().x(d => x(d[0])).y(d => y(d[1])).curve(d3.curveMonotoneX);

panels.forEach(p => {
  const { g, plot } = makeAxes(p.col, p.row, `clip-${p.year}`, x, y, kTicks, zTicks,
    d3.format(".1f"), d3.format(".3f"));

  const pts = p.cloud.flatMap(([k, zs]) => zs.map(z => [k, z]));
  plot.append("g").attr("stroke", "#c4c4c4").attr("stroke-width", 0.95).attr("fill", "none")
    .selectAll("path").data(pts).join("path")
    .attr("transform", d => `translate(${x(d[0])},${y(d[1])})`)
    .attr("d", "M-2.7,-2.7L2.7,2.7M-2.7,2.7L2.7,-2.7");

  modelNames.forEach((name, i) => {
    const series = kGrid.map((k, j) => [k, p.fits[i][j]]);
    plot.append("path").datum(series)
      .attr("fill", "none").attr("stroke", colors[name]).attr("stroke-width", widths[name])
      .attr("stroke-dasharray", dashes[name])
      .attr("d", line);
  });

  // legend
  const lg = g.append("g").attr("transform", "translate(4.5,3)");
  lg.append("rect").attr("width", 61).attr("height", 41.5).attr("rx", 2)
    .attr("fill", "#fff").attr("fill-opacity", 0.8).attr("stroke", "#cccccc").attr("stroke-width", 0.7);
  modelNames.forEach((name, i) => {
    const cy = 7 + i * 13.5;
    lg.append("line").attr("x1", 3).attr("x2", 20).attr("y1", cy).attr("y2", cy)
      .attr("stroke", colors[name]).attr("stroke-width", widths[name])
      .attr("stroke-dasharray", dashes[name]);
    lg.append("text").attr("x", 28).attr("y", cy + 3.1)
      .attr("font-family", FONT).attr("font-size", FS).text(name);
  });

  spines(g);

  // title  z*_{X_T} (year)
  const t = g.append("g").attr("font-family", FONT);
  const base = -6.5;
  t.append("text").attr("x", 0).attr("y", base).attr("font-size", TITLE_FS).attr("font-style", "italic").text("z");
  t.append("text").attr("x", 5.6).attr("y", base - 4.3).attr("font-size", 7).text("*");
  t.append("text").attr("x", 5.2).attr("y", base + 2.3).attr("font-size", 7).attr("font-style", "italic").text("X");
  t.append("text").attr("x", 10.0).attr("y", base + 3.8).attr("font-size", 5).attr("font-style", "italic").text("T");
  t.append("text").attr("x", 16.5).attr("y", base).attr("font-size", TITLE_FS).text(`(${p.year})`);
  const bb = t.node().getBBox();
  t.attr("transform", `translate(${axW / 2 - bb.width / 2 - bb.x},0)`);

  g.append("text").attr("x", axW / 2).attr("y", axH + 23.3).attr("text-anchor", "middle")
    .attr("font-family", FONT).attr("font-size", FS).attr("font-style", "italic").text("k");
});
</script>
</body>
</html>
